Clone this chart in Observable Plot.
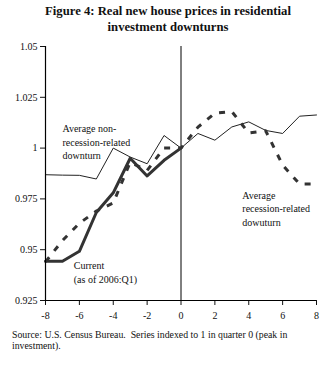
<!DOCTYPE html>
<html>
<head>
<meta charset="utf-8">
<script src="https://cdn.jsdelivr.net/npm/d3@7"></script>
<script src="https://cdn.jsdelivr.net/npm/@observablehq/plot@0.6"></script>
<style>
  body { margin: 0; background: #fff; font-family: "Liberation Serif", "Times New Roman", serif; }
  #wrap { width: 330px; height: 366px; position: relative; overflow: hidden; }
  #title { height: 38px; text-align: center; font-weight: bold; font-size: 12.7px; line-height: 16px; padding-top: 3px; box-sizing: border-box; color: #111; margin-left: 6px; }
  #caption { font-size: 9.8px; line-height: 11px; color: #111; padding-left: 12px; margin-top: 3px; white-space: pre; }
  svg { display: block; }
  #chart svg, #chart svg text { font-family: "Liberation Serif", "Times New Roman", serif; }
</style>
</head>
<body>
<div id="wrap">
  <div id="title">Figure 4: Real new house prices in residential<br>investment downturns</div>
  <div id="chart"></div>
  <div id="caption">Source: U.S. Census Bureau.  Series indexed to 1 in quarter 0 (peak in
investment).</div>
</div>
<script>
const quarters = [-8, -7, -6, -5, -4, -3, -2, -1, 0, 1, 2, 3, 4, 5, 6, 7, 8];
const nonRecession = [0.9869, 0.9867, 0.9866, 0.9848, 1.0000, 0.9956, 0.9923, 1.0062, 1.0000, 1.0072, 1.0039, 1.0104, 1.0129, 1.0087, 1.0072, 1.0157, 1.0163];
const recession = [0.9440, 0.9545, 0.9630, 0.9690, 0.9730, 0.9930, 0.9890, 1.0000, 1.0000, 1.0103, 1.0172, 1.0180, 1.0074, 1.0085, 0.9917, 0.9823, 0.9823];
const currentQuarters = [-8, -7, -6, -5, -4, -3, -2, -1, 0];
const current = [0.9443, 0.9443, 0.9492, 0.9683, 0.9780, 0.9950, 0.9863, 0.9940, 1.0000];
const yTicks = [0.925, 0.95, 0.975, 1, 1.025, 1.05];
const xTicks = [-8, -6, -4, -2, 0, 2, 4, 6, 8];
const labels = [
  {q: -7, v: 1.0125, text: "Average non-\nrecession-related\ndownturn"},
  {q: -6.33, v: 0.9450, text: "Current\n(as of 2006:Q1)"},
  {q: 3.62, v: 0.9798, text: "Average\nrecession-related\ndowuturn"}
];

const nonData = quarters.map((q, i) => ({q, v: nonRecession[i]}));
const recData = quarters.map((q, i) => ({q, v: recession[i]}));
const curData = currentQuarters.map((q, i) => ({q, v: current[i]}));

const chart = Plot.plot({
  width: 330,
  height: 288,
  marginTop: 8,
  marginBottom: 26,
  marginLeft: 45,
  marginRight: 14,
  style: {fontFamily: "'Liberation Serif', 'Times New Roman', serif", fontSize: "10px", color: "#111", background: "#fff"},
  x: {domain: [-8, 8], ticks: xTicks, tickFormat: d => String(d), tickSize: 5, tickPadding: 6, label: null},
  y: {domain: [0.925, 1.05], ticks: yTicks, tickFormat: d => String(d), tickSize: 5, tickPadding: 3, label: null},
  marks: [
    Plot.ruleX([0], {stroke: "#000", strokeWidth: 1}),
    Plot.line(nonData, {x: "q", y: "v", stroke: "#222", strokeWidth: 1}),
    Plot.line(recData, {x: "q", y: "v", stroke: "#333", strokeWidth: 3, strokeDasharray: "6,8", strokeLinecap: "butt"}),
    Plot.line(curData, {x: "q", y: "v", stroke: "#333", strokeWidth: 3}),
    Plot.text(labels, {x: "q", y: "v", text: "text", textAnchor: "start", lineAnchor: "top", lineHeight: 1.35, fontSize: 10, fill: "#111"}),
    Plot.ruleX([-8], {stroke: "#000", strokeWidth: 1.2}),
    Plot.ruleY([0.925], {stroke: "#000", strokeWidth: 1.2})
  ]
});
document.getElementById("chart").appendChild(chart);
</script>
</body>
</html>
